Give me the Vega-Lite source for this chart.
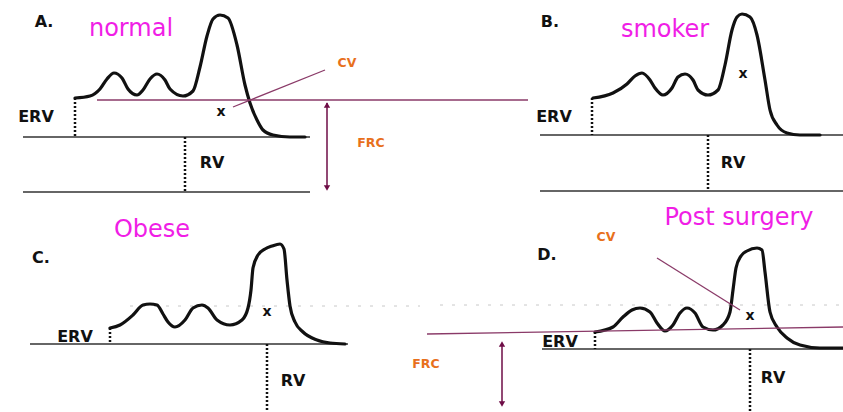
{
  "$schema": "https://vega.github.io/schema/vega-lite/v6.json",
  "width": 843,
  "height": 412,
  "autosize": {"type": "none"},
  "padding": 0,
  "background": "white",
  "config": {"view": {"stroke": null}},
  "datasets": {
    "curves": [
      {"panel": "A", "i": 1, "x": 75, "y": 98}, {"panel": "A", "i": 2, "x": 90, "y": 96}, {"panel": "A", "i": 3, "x": 100, "y": 89}, {"panel": "A", "i": 4, "x": 107, "y": 79}, {"panel": "A", "i": 5, "x": 114, "y": 73}, {"panel": "A", "i": 6, "x": 122, "y": 78}, {"panel": "A", "i": 7, "x": 128, "y": 89}, {"panel": "A", "i": 8, "x": 137, "y": 95}, {"panel": "A", "i": 9, "x": 143, "y": 90}, {"panel": "A", "i": 10, "x": 150, "y": 79}, {"panel": "A", "i": 11, "x": 157, "y": 74}, {"panel": "A", "i": 12, "x": 165, "y": 80}, {"panel": "A", "i": 13, "x": 170, "y": 89}, {"panel": "A", "i": 14, "x": 183, "y": 96}, {"panel": "A", "i": 15, "x": 193, "y": 91}, {"panel": "A", "i": 16, "x": 200, "y": 67}, {"panel": "A", "i": 17, "x": 207, "y": 36}, {"panel": "A", "i": 18, "x": 213, "y": 19}, {"panel": "A", "i": 19, "x": 220, "y": 15}, {"panel": "A", "i": 20, "x": 228, "y": 18}, {"panel": "A", "i": 21, "x": 237, "y": 45}, {"panel": "A", "i": 22, "x": 245, "y": 85}, {"panel": "A", "i": 23, "x": 250, "y": 103}, {"panel": "A", "i": 24, "x": 257, "y": 120}, {"panel": "A", "i": 25, "x": 263, "y": 130}, {"panel": "A", "i": 26, "x": 273, "y": 135}, {"panel": "A", "i": 27, "x": 290, "y": 137}, {"panel": "A", "i": 28, "x": 305, "y": 137},
      {"panel": "B", "i": 1, "x": 593, "y": 98}, {"panel": "B", "i": 2, "x": 613, "y": 93}, {"panel": "B", "i": 3, "x": 627, "y": 84}, {"panel": "B", "i": 4, "x": 635, "y": 76}, {"panel": "B", "i": 5, "x": 642, "y": 73}, {"panel": "B", "i": 6, "x": 650, "y": 80}, {"panel": "B", "i": 7, "x": 655, "y": 88}, {"panel": "B", "i": 8, "x": 663, "y": 95}, {"panel": "B", "i": 9, "x": 672, "y": 88}, {"panel": "B", "i": 10, "x": 678, "y": 77}, {"panel": "B", "i": 11, "x": 685, "y": 74}, {"panel": "B", "i": 12, "x": 693, "y": 80}, {"panel": "B", "i": 13, "x": 698, "y": 90}, {"panel": "B", "i": 14, "x": 708, "y": 95}, {"panel": "B", "i": 15, "x": 718, "y": 90}, {"panel": "B", "i": 16, "x": 725, "y": 65}, {"panel": "B", "i": 17, "x": 732, "y": 30}, {"panel": "B", "i": 18, "x": 737, "y": 17}, {"panel": "B", "i": 19, "x": 742, "y": 14}, {"panel": "B", "i": 20, "x": 750, "y": 17}, {"panel": "B", "i": 21, "x": 757, "y": 35}, {"panel": "B", "i": 22, "x": 765, "y": 80}, {"panel": "B", "i": 23, "x": 770, "y": 110}, {"panel": "B", "i": 24, "x": 777, "y": 125}, {"panel": "B", "i": 25, "x": 787, "y": 133}, {"panel": "B", "i": 26, "x": 800, "y": 135}, {"panel": "B", "i": 27, "x": 820, "y": 135},
      {"panel": "C", "i": 1, "x": 110, "y": 328}, {"panel": "C", "i": 2, "x": 120, "y": 325}, {"panel": "C", "i": 3, "x": 133, "y": 315}, {"panel": "C", "i": 4, "x": 143, "y": 305}, {"panel": "C", "i": 5, "x": 150, "y": 304}, {"panel": "C", "i": 6, "x": 157, "y": 305}, {"panel": "C", "i": 7, "x": 163, "y": 314}, {"panel": "C", "i": 8, "x": 168, "y": 322}, {"panel": "C", "i": 9, "x": 175, "y": 327}, {"panel": "C", "i": 10, "x": 185, "y": 320}, {"panel": "C", "i": 11, "x": 193, "y": 308}, {"panel": "C", "i": 12, "x": 202, "y": 305}, {"panel": "C", "i": 13, "x": 208, "y": 308}, {"panel": "C", "i": 14, "x": 217, "y": 320}, {"panel": "C", "i": 15, "x": 230, "y": 325}, {"panel": "C", "i": 16, "x": 242, "y": 320}, {"panel": "C", "i": 17, "x": 248, "y": 308}, {"panel": "C", "i": 18, "x": 251, "y": 290}, {"panel": "C", "i": 19, "x": 253, "y": 268}, {"panel": "C", "i": 20, "x": 258, "y": 255}, {"panel": "C", "i": 21, "x": 265, "y": 249}, {"panel": "C", "i": 22, "x": 272, "y": 246}, {"panel": "C", "i": 23, "x": 280, "y": 244}, {"panel": "C", "i": 24, "x": 284, "y": 249}, {"panel": "C", "i": 25, "x": 287, "y": 280}, {"panel": "C", "i": 26, "x": 290, "y": 306}, {"panel": "C", "i": 27, "x": 295, "y": 322}, {"panel": "C", "i": 28, "x": 303, "y": 332}, {"panel": "C", "i": 29, "x": 317, "y": 340}, {"panel": "C", "i": 30, "x": 330, "y": 343}, {"panel": "C", "i": 31, "x": 345, "y": 344},
      {"panel": "D", "i": 1, "x": 595, "y": 332}, {"panel": "D", "i": 2, "x": 613, "y": 327}, {"panel": "D", "i": 3, "x": 623, "y": 317}, {"panel": "D", "i": 4, "x": 632, "y": 310}, {"panel": "D", "i": 5, "x": 640, "y": 308}, {"panel": "D", "i": 6, "x": 650, "y": 312}, {"panel": "D", "i": 7, "x": 657, "y": 323}, {"panel": "D", "i": 8, "x": 665, "y": 331}, {"panel": "D", "i": 9, "x": 673, "y": 325}, {"panel": "D", "i": 10, "x": 680, "y": 313}, {"panel": "D", "i": 11, "x": 687, "y": 308}, {"panel": "D", "i": 12, "x": 695, "y": 313}, {"panel": "D", "i": 13, "x": 703, "y": 327}, {"panel": "D", "i": 14, "x": 713, "y": 330}, {"panel": "D", "i": 15, "x": 723, "y": 325}, {"panel": "D", "i": 16, "x": 730, "y": 312}, {"panel": "D", "i": 17, "x": 733, "y": 290}, {"panel": "D", "i": 18, "x": 736, "y": 268}, {"panel": "D", "i": 19, "x": 741, "y": 256}, {"panel": "D", "i": 20, "x": 747, "y": 251}, {"panel": "D", "i": 21, "x": 757, "y": 248}, {"panel": "D", "i": 22, "x": 762, "y": 250}, {"panel": "D", "i": 23, "x": 765, "y": 272}, {"panel": "D", "i": 24, "x": 770, "y": 312}, {"panel": "D", "i": 25, "x": 777, "y": 327}, {"panel": "D", "i": 26, "x": 787, "y": 338}, {"panel": "D", "i": 27, "x": 800, "y": 345}, {"panel": "D", "i": 28, "x": 820, "y": 348}, {"panel": "D", "i": 29, "x": 843, "y": 348}
    ],
    "segments": [
      {"kind": "guide", "x": 130, "y": 306, "x2": 420, "y2": 306},
      {"kind": "guide", "x": 440, "y": 305, "x2": 843, "y2": 305},
      {"kind": "base", "x": 23, "y": 137, "x2": 310, "y2": 137},
      {"kind": "base", "x": 23, "y": 192, "x2": 310, "y2": 192},
      {"kind": "base", "x": 540, "y": 135, "x2": 843, "y2": 135},
      {"kind": "base", "x": 540, "y": 191, "x2": 843, "y2": 191},
      {"kind": "base", "x": 30, "y": 344, "x2": 348, "y2": 344},
      {"kind": "base", "x": 542, "y": 349, "x2": 843, "y2": 349},
      {"kind": "dotted", "x": 75, "y": 98, "x2": 75, "y2": 137},
      {"kind": "dotted", "x": 185, "y": 137, "x2": 185, "y2": 192},
      {"kind": "dotted", "x": 592, "y": 98, "x2": 592, "y2": 135},
      {"kind": "dotted", "x": 708, "y": 135, "x2": 708, "y2": 191},
      {"kind": "dotted", "x": 110, "y": 328, "x2": 110, "y2": 344},
      {"kind": "dotted", "x": 267, "y": 344, "x2": 267, "y2": 412},
      {"kind": "dotted", "x": 595, "y": 332, "x2": 595, "y2": 349},
      {"kind": "dotted", "x": 750, "y": 349, "x2": 750, "y2": 412},
      {"kind": "purple", "x": 97, "y": 100, "x2": 528, "y2": 100},
      {"kind": "purple", "x": 233, "y": 107, "x2": 325, "y2": 70},
      {"kind": "purple", "x": 427, "y": 334, "x2": 843, "y2": 327},
      {"kind": "purple", "x": 657, "y": 258, "x2": 740, "y2": 310},
      {"kind": "arrow", "x": 327, "y": 103, "x2": 327, "y2": 189},
      {"kind": "arrow", "x": 502, "y": 343, "x2": 502, "y2": 405}
    ],
    "heads": [
      {"dir": "up", "x": 327, "y": 105},
      {"dir": "down", "x": 327, "y": 188},
      {"dir": "up", "x": 502, "y": 344},
      {"dir": "down", "x": 502, "y": 404}
    ],
    "labels": [
      {"kind": "panel", "text": "A.", "x": 44, "y": 22},
      {"kind": "panel", "text": "B.", "x": 550, "y": 22},
      {"kind": "panel", "text": "C.", "x": 41, "y": 258},
      {"kind": "panel", "text": "D.", "x": 547, "y": 255},
      {"kind": "title", "text": "normal", "x": 131, "y": 36},
      {"kind": "title", "text": "smoker", "x": 665, "y": 37},
      {"kind": "title", "text": "Obese", "x": 152, "y": 237},
      {"kind": "title", "text": "Post surgery", "x": 739, "y": 225},
      {"kind": "vol", "text": "ERV", "x": 36, "y": 117},
      {"kind": "vol", "text": "RV", "x": 212, "y": 163},
      {"kind": "vol", "text": "ERV", "x": 554, "y": 117},
      {"kind": "vol", "text": "RV", "x": 733, "y": 163},
      {"kind": "vol", "text": "ERV", "x": 75, "y": 337},
      {"kind": "vol", "text": "RV", "x": 293, "y": 381},
      {"kind": "vol", "text": "ERV", "x": 560, "y": 342},
      {"kind": "vol", "text": "RV", "x": 773, "y": 378},
      {"kind": "note", "text": "CV", "x": 347, "y": 63},
      {"kind": "note", "text": "FRC", "x": 371, "y": 143},
      {"kind": "note", "text": "CV", "x": 606, "y": 237},
      {"kind": "note", "text": "FRC", "x": 426, "y": 364},
      {"kind": "mark", "text": "x", "x": 221, "y": 112},
      {"kind": "mark", "text": "x", "x": 743, "y": 74},
      {"kind": "mark", "text": "x", "x": 267, "y": 312},
      {"kind": "mark", "text": "x", "x": 750, "y": 316}
    ]
  },
  "layer": [
    {
      "data": {"name": "segments"},
      "transform": [{"filter": "datum.kind === 'guide'"}],
      "mark": {"type": "rule", "stroke": "#c8c8c8", "strokeWidth": 1, "strokeDash": [3, 9]},
      "encoding": {
        "x": {"field": "x", "type": "quantitative", "scale": {"domain": [0, 843], "nice": false, "zero": false}, "axis": null},
        "y": {"field": "y", "type": "quantitative", "scale": {"domain": [0, 412], "nice": false, "zero": false, "reverse": true}, "axis": null},
        "x2": {"field": "x2"},
        "y2": {"field": "y2"}
      }
    },
    {
      "data": {"name": "segments"},
      "transform": [{"filter": "datum.kind === 'base'"}],
      "mark": {"type": "rule", "stroke": "#333333", "strokeWidth": 1.5},
      "encoding": {
        "x": {"field": "x", "type": "quantitative", "scale": {"domain": [0, 843], "nice": false, "zero": false}, "axis": null},
        "y": {"field": "y", "type": "quantitative", "scale": {"domain": [0, 412], "nice": false, "zero": false, "reverse": true}, "axis": null},
        "x2": {"field": "x2"},
        "y2": {"field": "y2"}
      }
    },
    {
      "data": {"name": "segments"},
      "transform": [{"filter": "datum.kind === 'dotted'"}],
      "mark": {"type": "rule", "stroke": "#111111", "strokeWidth": 2.5, "strokeDash": [2, 2]},
      "encoding": {
        "x": {"field": "x", "type": "quantitative", "scale": {"domain": [0, 843], "nice": false, "zero": false}, "axis": null},
        "y": {"field": "y", "type": "quantitative", "scale": {"domain": [0, 412], "nice": false, "zero": false, "reverse": true}, "axis": null},
        "x2": {"field": "x2"},
        "y2": {"field": "y2"}
      }
    },
    {
      "data": {"name": "curves"},
      "mark": {"type": "line", "interpolate": "monotone", "stroke": "#111111", "strokeWidth": 3.2, "strokeCap": "round", "strokeJoin": "round"},
      "encoding": {
        "x": {"field": "x", "type": "quantitative", "scale": {"domain": [0, 843], "nice": false, "zero": false}, "axis": null},
        "y": {"field": "y", "type": "quantitative", "scale": {"domain": [0, 412], "nice": false, "zero": false, "reverse": true}, "axis": null},
        "detail": {"field": "panel", "type": "nominal"},
        "order": {"field": "i", "type": "quantitative"}
      }
    },
    {
      "data": {"name": "segments"},
      "transform": [{"filter": "datum.kind === 'purple'"}],
      "mark": {"type": "rule", "stroke": "#8a3a68", "strokeWidth": 1.3},
      "encoding": {
        "x": {"field": "x", "type": "quantitative", "scale": {"domain": [0, 843], "nice": false, "zero": false}, "axis": null},
        "y": {"field": "y", "type": "quantitative", "scale": {"domain": [0, 412], "nice": false, "zero": false, "reverse": true}, "axis": null},
        "x2": {"field": "x2"},
        "y2": {"field": "y2"}
      }
    },
    {
      "data": {"name": "segments"},
      "transform": [{"filter": "datum.kind === 'arrow'"}],
      "mark": {"type": "rule", "stroke": "#6e0c46", "strokeWidth": 1.5},
      "encoding": {
        "x": {"field": "x", "type": "quantitative", "scale": {"domain": [0, 843], "nice": false, "zero": false}, "axis": null},
        "y": {"field": "y", "type": "quantitative", "scale": {"domain": [0, 412], "nice": false, "zero": false, "reverse": true}, "axis": null},
        "x2": {"field": "x2"},
        "y2": {"field": "y2"}
      }
    },
    {
      "data": {"name": "heads"},
      "transform": [{"filter": "datum.dir === 'up'"}],
      "mark": {"type": "point", "shape": "triangle-up", "filled": true, "color": "#6e0c46", "size": 40, "opacity": 1},
      "encoding": {
        "x": {"field": "x", "type": "quantitative", "scale": {"domain": [0, 843], "nice": false, "zero": false}, "axis": null},
        "y": {"field": "y", "type": "quantitative", "scale": {"domain": [0, 412], "nice": false, "zero": false, "reverse": true}, "axis": null}
      }
    },
    {
      "data": {"name": "heads"},
      "transform": [{"filter": "datum.dir === 'down'"}],
      "mark": {"type": "point", "shape": "triangle-down", "filled": true, "color": "#6e0c46", "size": 40, "opacity": 1},
      "encoding": {
        "x": {"field": "x", "type": "quantitative", "scale": {"domain": [0, 843], "nice": false, "zero": false}, "axis": null},
        "y": {"field": "y", "type": "quantitative", "scale": {"domain": [0, 412], "nice": false, "zero": false, "reverse": true}, "axis": null}
      }
    },
    {
      "data": {"name": "labels"},
      "transform": [{"filter": "datum.kind === 'panel'"}],
      "mark": {"type": "text", "font": "DejaVu Sans", "fontWeight": "bold", "fontSize": 16, "color": "#111111", "align": "center", "baseline": "middle"},
      "encoding": {
        "x": {"field": "x", "type": "quantitative", "scale": {"domain": [0, 843], "nice": false, "zero": false}, "axis": null},
        "y": {"field": "y", "type": "quantitative", "scale": {"domain": [0, 412], "nice": false, "zero": false, "reverse": true}, "axis": null},
        "text": {"field": "text"}
      }
    },
    {
      "data": {"name": "labels"},
      "transform": [{"filter": "datum.kind === 'title'"}],
      "mark": {"type": "text", "font": "DejaVu Sans", "fontSize": 24, "color": "#f01ee6", "align": "center", "baseline": "alphabetic"},
      "encoding": {
        "x": {"field": "x", "type": "quantitative", "scale": {"domain": [0, 843], "nice": false, "zero": false}, "axis": null},
        "y": {"field": "y", "type": "quantitative", "scale": {"domain": [0, 412], "nice": false, "zero": false, "reverse": true}, "axis": null},
        "text": {"field": "text"}
      }
    },
    {
      "data": {"name": "labels"},
      "transform": [{"filter": "datum.kind === 'vol'"}],
      "mark": {"type": "text", "font": "DejaVu Sans", "fontWeight": "bold", "fontSize": 16, "color": "#111111", "align": "center", "baseline": "middle"},
      "encoding": {
        "x": {"field": "x", "type": "quantitative", "scale": {"domain": [0, 843], "nice": false, "zero": false}, "axis": null},
        "y": {"field": "y", "type": "quantitative", "scale": {"domain": [0, 412], "nice": false, "zero": false, "reverse": true}, "axis": null},
        "text": {"field": "text"}
      }
    },
    {
      "data": {"name": "labels"},
      "transform": [{"filter": "datum.kind === 'note'"}],
      "mark": {"type": "text", "font": "DejaVu Sans", "fontWeight": "bold", "fontSize": 12.5, "color": "#e8701c", "align": "center", "baseline": "middle"},
      "encoding": {
        "x": {"field": "x", "type": "quantitative", "scale": {"domain": [0, 843], "nice": false, "zero": false}, "axis": null},
        "y": {"field": "y", "type": "quantitative", "scale": {"domain": [0, 412], "nice": false, "zero": false, "reverse": true}, "axis": null},
        "text": {"field": "text"}
      }
    },
    {
      "data": {"name": "labels"},
      "transform": [{"filter": "datum.kind === 'mark'"}],
      "mark": {"type": "text", "font": "DejaVu Sans", "fontWeight": "bold", "fontSize": 14, "color": "#111111", "align": "center", "baseline": "middle"},
      "encoding": {
        "x": {"field": "x", "type": "quantitative", "scale": {"domain": [0, 843], "nice": false, "zero": false}, "axis": null},
        "y": {"field": "y", "type": "quantitative", "scale": {"domain": [0, 412], "nice": false, "zero": false, "reverse": true}, "axis": null},
        "text": {"field": "text"}
      }
    }
  ]
}
